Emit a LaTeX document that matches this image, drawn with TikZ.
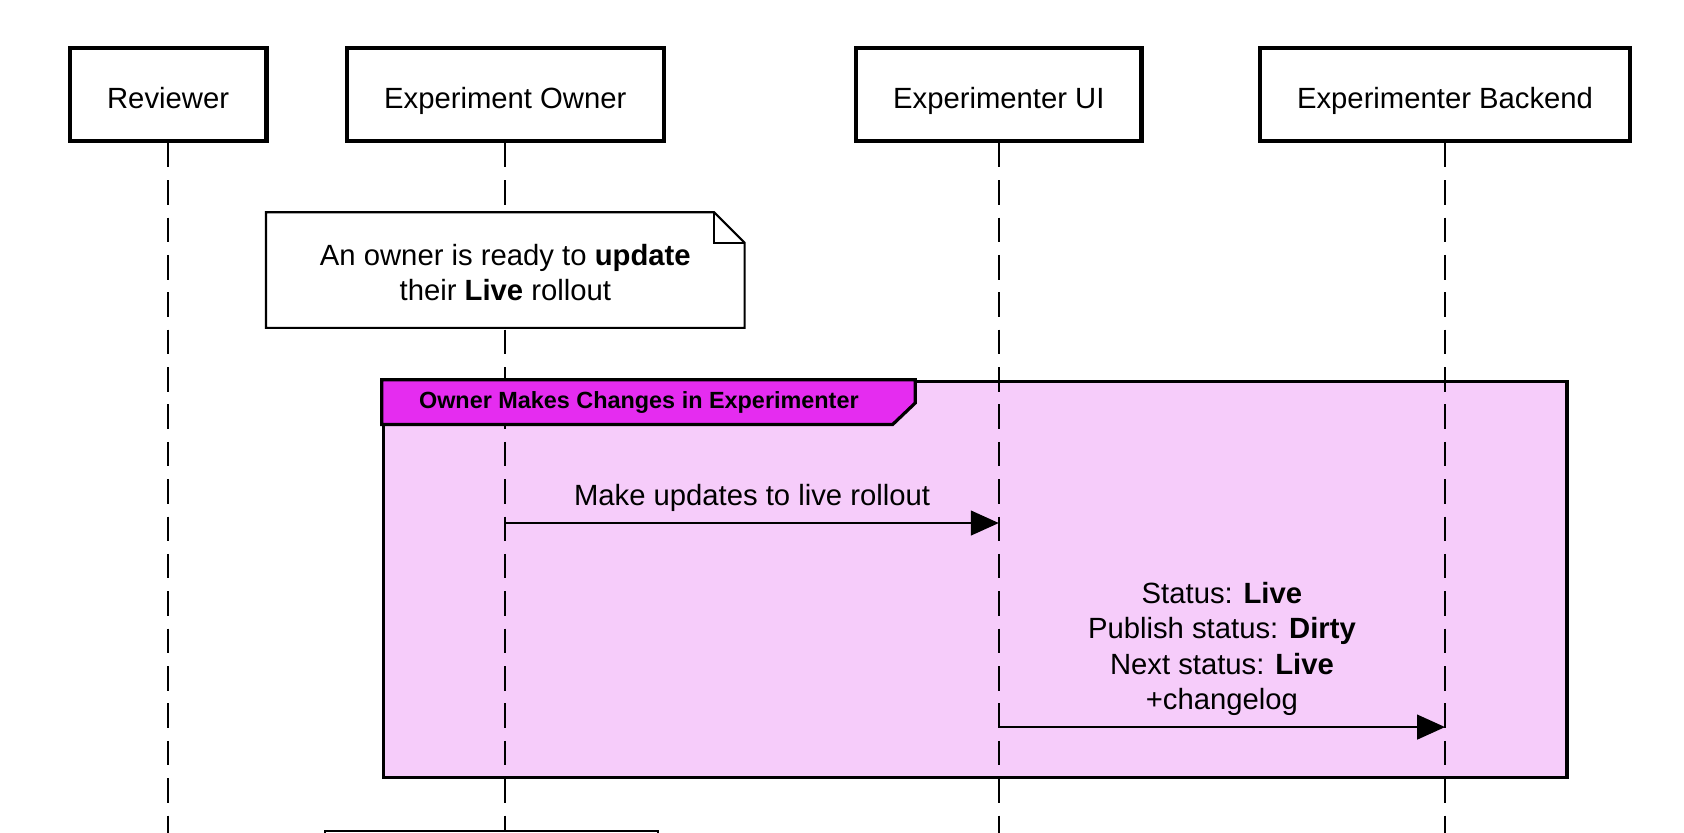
\documentclass[tikz,border=0pt]{standalone}
\usepackage{fontspec}
\setmainfont{Liberation Sans}
\usetikzlibrary{positioning,calc}
\usetikzlibrary{arrows.meta}

\definecolor{grpfill}{RGB}{246,204,250}
\definecolor{grptab}{RGB}{229,44,240}

\begin{document}
\begin{tikzpicture}[x=0.2mm, y=-0.2mm,
  actor/.style={draw, line width=2.3pt, minimum height=1.72cm, text height=17pt, text depth=2.4pt, font=\fontsize{15.5}{18.8}\selectfont},
  lifeline/.style={line width=1pt, dash pattern=on 13pt off 6.8pt},
  msg/.style={line width=1.1pt, -{Triangle[length=0.52cm, width=0.46cm]}},
  txt/.style={font=\fontsize{15.5}{18.8}\selectfont, align=center, inner sep=0}]
\useasboundingbox (0,0) rectangle (1568,775);

\node[actor, minimum width=3.66cm] (rev) at (156.5,88) {Reviewer};
\node[actor, minimum width=5.9cm] (own) at (470.5,88) {Experiment Owner};
\node[actor, minimum width=5.32cm] (ui) at (930,88) {Experimenter UI};
\node[actor, minimum width=6.9cm] (be) at (1345.5,88) {Experimenter Backend};

\node[draw, line width=1.7pt, fill=grpfill, minimum width=22.04cm, minimum height=7.38cm, inner sep=0] (grp) at (908,539.5) {};

\coordinate (end) at (0,800);
\foreach \p in {rev,own,ui,be}
  \draw[lifeline] (\p.south) -- (\p.south |- end);

\node[anchor=north west, minimum width=9.92cm, minimum height=0.82cm, inner sep=0] (tab) at (grp.north west) {};
\draw[line width=1.7pt, fill=grptab] (tab.north west) -- (tab.north east) -- ([yshift=0.4cm]tab.south east) -- ([xshift=-0.42cm]tab.south east) -- (tab.south west) -- cycle;
\node[font=\bfseries\fontsize{12.4}{14}\selectfont] (tabtext) at ([xshift=-0.18cm]tab.center) {Owner Makes Changes in Experimenter};

\node[minimum width=8.9cm, minimum height=2.14cm, inner sep=0] (upd) at (470.5,251.5) {};
\draw[line width=1.1pt, fill=white] (upd.south west) -- (upd.north west) -- ([xshift=-0.57cm]upd.north east) -- ([yshift=-0.57cm]upd.north east) -- (upd.south east) -- cycle;
\draw[line width=1.1pt] ([xshift=-0.57cm]upd.north east) |- ([yshift=-0.57cm]upd.north east);
\node[txt] (updtext) at ([yshift=-0.05cm]upd.center) {An owner is ready to \textbf{update}\\their \textbf{Live} rollout};

\coordinate (m1) at (0,487);
\draw[msg] (own |- m1) -- node[txt, above=0.19cm] (m1text) {Make updates to live rollout} (ui |- m1);
\coordinate (m2) at (0,677);
\draw[msg] (ui |- m2) -- node[txt, above=0.19cm] (m2text) {Status: \textbf{Live}\\Publish status: \textbf{Dirty}\\Next status: \textbf{Live}\\+changelog} (be |- m2);

\node[draw, line width=1.1pt, fill=white, minimum width=6.2cm, minimum height=2cm, anchor=north west] (nxt) at (302,773) {};
\end{tikzpicture}
\end{document}
